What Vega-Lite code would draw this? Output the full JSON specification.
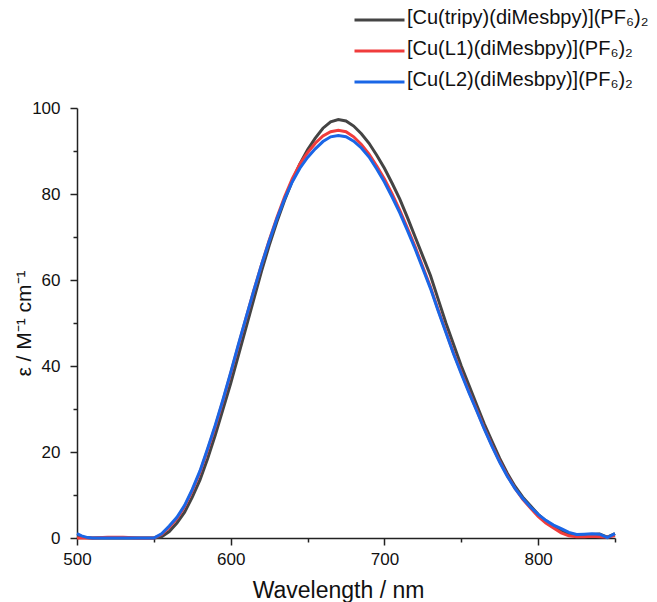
{
  "$schema": "https://vega.github.io/schema/vega-lite/v6.json",
  "width": 538,
  "height": 430,
  "autosize": {"type": "none"},
  "padding": {"left": 77, "top": 108, "right": 42, "bottom": 64},
  "background": "white",
  "config": {
    "view": {"stroke": null},
    "font": "Liberation Sans"
  },
  "datasets": {
    "k": [
      {"wl":500,"eps":0.3},{"wl":505,"eps":0.1},{"wl":510,"eps":0},{"wl":520,"eps":0},{"wl":530,"eps":0},{"wl":540,"eps":0},{"wl":550,"eps":0},{"wl":555,"eps":0.3},{"wl":560,"eps":1.5},{"wl":565,"eps":3.5},{"wl":570,"eps":6},{"wl":575,"eps":9.5},{"wl":580,"eps":13.5},{"wl":585,"eps":18.5},{"wl":590,"eps":24},{"wl":595,"eps":30},{"wl":600,"eps":36},{"wl":605,"eps":42.5},{"wl":610,"eps":49},{"wl":615,"eps":55.5},{"wl":620,"eps":62},{"wl":625,"eps":68},{"wl":630,"eps":73.5},{"wl":635,"eps":78.5},{"wl":640,"eps":83},{"wl":645,"eps":87},{"wl":650,"eps":90.3},{"wl":655,"eps":93},{"wl":660,"eps":95.3},{"wl":665,"eps":96.8},{"wl":670,"eps":97.3},{"wl":675,"eps":97},{"wl":680,"eps":95.8},{"wl":685,"eps":94},{"wl":690,"eps":91.8},{"wl":695,"eps":89},{"wl":700,"eps":86},{"wl":705,"eps":82.5},{"wl":710,"eps":78.8},{"wl":715,"eps":74.5},{"wl":720,"eps":70},{"wl":725,"eps":65.5},{"wl":730,"eps":61},{"wl":735,"eps":55.5},{"wl":740,"eps":50},{"wl":745,"eps":45},{"wl":750,"eps":40},{"wl":755,"eps":35.5},{"wl":760,"eps":31},{"wl":765,"eps":26.5},{"wl":770,"eps":22.5},{"wl":775,"eps":18.5},{"wl":780,"eps":15},{"wl":785,"eps":12},{"wl":790,"eps":9.5},{"wl":795,"eps":7.5},{"wl":800,"eps":5.5},{"wl":805,"eps":4},{"wl":810,"eps":2.8},{"wl":815,"eps":1.8},{"wl":820,"eps":1},{"wl":825,"eps":0.6},{"wl":830,"eps":0.6},{"wl":835,"eps":0.8},{"wl":840,"eps":0.9},{"wl":845,"eps":0.2},{"wl":850,"eps":1}
    ],
    "r": [
      {"wl":500,"eps":0},{"wl":510,"eps":0},{"wl":520,"eps":0.2},{"wl":530,"eps":0.2},{"wl":540,"eps":0},{"wl":550,"eps":0},{"wl":555,"eps":0.8},{"wl":560,"eps":2.5},{"wl":565,"eps":4.5},{"wl":570,"eps":7.3},{"wl":575,"eps":11},{"wl":580,"eps":15.3},{"wl":585,"eps":20.5},{"wl":590,"eps":26},{"wl":595,"eps":32},{"wl":600,"eps":38.3},{"wl":605,"eps":44.8},{"wl":610,"eps":51.2},{"wl":615,"eps":57.5},{"wl":620,"eps":63.5},{"wl":625,"eps":69.2},{"wl":630,"eps":74.5},{"wl":635,"eps":79.3},{"wl":640,"eps":83.5},{"wl":645,"eps":87},{"wl":650,"eps":89.6},{"wl":655,"eps":91.8},{"wl":660,"eps":93.5},{"wl":665,"eps":94.5},{"wl":670,"eps":94.8},{"wl":675,"eps":94.5},{"wl":680,"eps":93.3},{"wl":685,"eps":91.5},{"wl":690,"eps":89.3},{"wl":695,"eps":86.5},{"wl":700,"eps":83.5},{"wl":705,"eps":80},{"wl":710,"eps":76.2},{"wl":715,"eps":72},{"wl":720,"eps":67.7},{"wl":725,"eps":63},{"wl":730,"eps":58.3},{"wl":735,"eps":53},{"wl":740,"eps":48},{"wl":745,"eps":43},{"wl":750,"eps":38.5},{"wl":755,"eps":34},{"wl":760,"eps":29.8},{"wl":765,"eps":25.5},{"wl":770,"eps":21.5},{"wl":775,"eps":17.8},{"wl":780,"eps":14.5},{"wl":785,"eps":11.5},{"wl":790,"eps":9},{"wl":795,"eps":7},{"wl":800,"eps":5},{"wl":805,"eps":3.5},{"wl":810,"eps":2.3},{"wl":815,"eps":1.2},{"wl":820,"eps":0.5},{"wl":825,"eps":0.3},{"wl":830,"eps":0.3},{"wl":835,"eps":0.4},{"wl":840,"eps":0.3},{"wl":845,"eps":0.2},{"wl":850,"eps":0.6}
    ],
    "b": [
      {"wl":500,"eps":1},{"wl":503,"eps":0.5},{"wl":507,"eps":0.1},{"wl":510,"eps":0},{"wl":520,"eps":0},{"wl":530,"eps":0},{"wl":540,"eps":0},{"wl":550,"eps":0},{"wl":555,"eps":1},{"wl":560,"eps":2.8},{"wl":565,"eps":4.8},{"wl":570,"eps":7.6},{"wl":575,"eps":11.3},{"wl":580,"eps":15.6},{"wl":585,"eps":20.8},{"wl":590,"eps":26.3},{"wl":595,"eps":32.2},{"wl":600,"eps":38.5},{"wl":605,"eps":45},{"wl":610,"eps":51.3},{"wl":615,"eps":57.5},{"wl":620,"eps":63.5},{"wl":625,"eps":69},{"wl":630,"eps":74.2},{"wl":635,"eps":78.8},{"wl":640,"eps":82.8},{"wl":645,"eps":86},{"wl":650,"eps":88.5},{"wl":655,"eps":90.5},{"wl":660,"eps":92.2},{"wl":665,"eps":93.3},{"wl":670,"eps":93.6},{"wl":675,"eps":93.3},{"wl":680,"eps":92.3},{"wl":685,"eps":90.7},{"wl":690,"eps":88.6},{"wl":695,"eps":85.8},{"wl":700,"eps":82.8},{"wl":705,"eps":79.3},{"wl":710,"eps":75.6},{"wl":715,"eps":71.5},{"wl":720,"eps":67.2},{"wl":725,"eps":62.6},{"wl":730,"eps":58},{"wl":735,"eps":52.8},{"wl":740,"eps":47.8},{"wl":745,"eps":42.8},{"wl":750,"eps":38.2},{"wl":755,"eps":33.8},{"wl":760,"eps":29.6},{"wl":765,"eps":25.3},{"wl":770,"eps":21.3},{"wl":775,"eps":17.6},{"wl":780,"eps":14.3},{"wl":785,"eps":11.5},{"wl":790,"eps":9.2},{"wl":795,"eps":7.2},{"wl":800,"eps":5.5},{"wl":805,"eps":4.1},{"wl":810,"eps":3},{"wl":815,"eps":2.2},{"wl":820,"eps":1.3},{"wl":825,"eps":0.8},{"wl":830,"eps":0.9},{"wl":835,"eps":1},{"wl":840,"eps":0.9},{"wl":845,"eps":0.1},{"wl":850,"eps":1}
    ]
  },
  "encoding": {
    "x": {
      "field": "wl", "type": "quantitative",
      "scale": {"domain": [500, 850], "nice": false, "zero": false},
      "axis": {
        "title": "Wavelength / nm",
        "values": [500,550,600,650,700,750,800,850],
        "labelExpr": "datum.value % 100 === 0 ? datum.label : ''",
        "labelFlush": false,
        "tickSize": {"condition": {"test": "datum.value % 100 === 0", "value": 7}, "value": 4},
        "grid": false,
        "domainColor": "#222", "domainWidth": 1.5,
        "tickColor": "#222", "tickWidth": 1.5,
        "labelFontSize": 17, "labelColor": "#111", "labelPadding": 6,
        "titleFontSize": 23, "titleFontWeight": "normal", "titleColor": "#111", "titlePadding": 12,
        "titleX": 261
      }
    },
    "y": {
      "field": "eps", "type": "quantitative",
      "scale": {"domain": [0, 100], "nice": false},
      "axis": {
        "title": "ε / M⁻¹ cm⁻¹",
        "values": [0,10,20,30,40,50,60,70,80,90,100],
        "labelExpr": "datum.value % 20 === 0 ? datum.label : ''",
        "labelFlush": false,
        "tickSize": {"condition": {"test": "datum.value % 20 === 0", "value": 7}, "value": 4},
        "grid": false,
        "domainColor": "#222", "domainWidth": 1.5,
        "tickColor": "#222", "tickWidth": 1.5,
        "labelFontSize": 17, "labelColor": "#111", "labelPadding": 10,
        "titleFontSize": 21, "titleFontWeight": "normal", "titleColor": "#111", "titlePadding": -3
      }
    },
    "color": {
      "field": "s", "type": "nominal",
      "scale": {
        "domain": ["[Cu(tripy)(diMesbpy)](PF₆)₂", "[Cu(L1)(diMesbpy)](PF₆)₂", "[Cu(L2)(diMesbpy)](PF₆)₂"],
        "range": ["#444444", "#f03c3c", "#1a66e6"]
      },
      "legend": {
        "title": null,
        "orient": "none",
        "legendX": 291,
        "legendY": -102,
        "symbolType": "M-2.5,0.25H2.5",
        "symbolStrokeWidth": 3,
        "symbolSize": 400,
        "labelFontSize": 20,
        "labelColor": "#111",
        "labelLimit": 400,
        "labelOffset": 16,
        "rowPadding": 9
      }
    }
  },
  "layer": [
    {"data": {"name": "k"}, "transform": [{"calculate": "'[Cu(tripy)(diMesbpy)](PF₆)₂'", "as": "s"}], "mark": {"type": "line", "strokeWidth": 3}},
    {"data": {"name": "r"}, "transform": [{"calculate": "'[Cu(L1)(diMesbpy)](PF₆)₂'", "as": "s"}], "mark": {"type": "line", "strokeWidth": 3}},
    {"data": {"name": "b"}, "transform": [{"calculate": "'[Cu(L2)(diMesbpy)](PF₆)₂'", "as": "s"}], "mark": {"type": "line", "strokeWidth": 3}}
  ]
}
